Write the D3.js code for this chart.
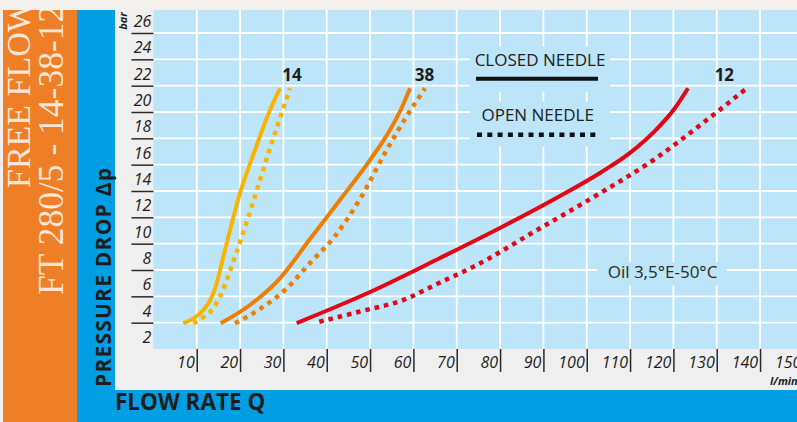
<!DOCTYPE html>
<html>
<head>
<meta charset="utf-8">
<script src="https://cdn.jsdelivr.net/npm/d3@7"></script>
<style>
  html, body { margin: 0; padding: 0; background: #f2eeeb; }
  svg { display: block; }
</style>
</head>
<body>
<svg id="chart" width="797" height="422"></svg>
<script>
// Flow rate Q (l/min) and pressure drop (bar)
const q14Closed = [6.90, 9.80, 11.52, 13.00, 14.20, 15.10, 15.80, 17.22, 19.98, 23.45, 26.91, 29.22];
const p14Closed = [3.95, 4.45, 4.96, 5.65, 6.55, 7.60, 8.55, 10.43, 13.83, 17.11, 20.15, 21.8];
const q14Open = [9.21, 11.52, 13.82, 15.83, 18.83, 22.68, 26.52, 30.37, 31.52];
const p14Open = [3.95, 4.41, 5.09, 6.33, 9.01, 12.81, 16.86, 20.66, 21.8];

const q38Closed = [15.53, 22.29, 29.21, 36.14, 43.06, 49.98, 54.60, 57.60, 59.22];
const p38Closed = [3.95, 5.34, 7.37, 10.35, 13.32, 16.35, 18.63, 20.53, 21.8];
const q38Open = [18.83, 24.60, 30.37, 36.14, 41.91, 47.68, 53.45, 58.06, 62.68];
const p38Open = [3.95, 5.04, 6.48, 8.53, 10.58, 13.39, 16.89, 19.47, 21.8];

const q12Closed = [33.07, 50.0, 66.14, 79.98, 93.83, 103.06, 109.98, 115.75, 120.37, 123.37];
const p12Closed = [3.97, 6.33, 8.91, 11.19, 13.62, 15.37, 16.89, 18.56, 20.30, 21.8];
const q12Open = [38.28, 47.68, 57.60, 66.14, 73.75, 89.22, 103.06, 115.36, 127.68, 136.92];
const p12Open = [4.07, 4.85, 5.72, 7.05, 8.23, 11.17, 13.83, 16.35, 19.39, 21.8];

const seriesNames = ["14", "38", "12"];
const seriesColors = ["#f9b300", "#ef7d00", "#e30613"];

const xTicks = [10, 20, 30, 40, 50, 60, 70, 80, 90, 100, 110, 120, 130, 140, 150];
const yTicks = [2, 4, 6, 8, 10, 12, 14, 16, 18, 20, 22, 24, 26];

const W = 797, H = 422;
const plot = { left: 153.4, top: 10, right: 797, bottom: 349 };

const svg = d3.select("#chart");

// background bands
svg.append("rect").attr("x", 3).attr("y", 10).attr("width", 74).attr("height", H - 10).attr("fill", "#ef7f26");
svg.append("rect").attr("x", 77).attr("y", 10).attr("width", W - 77).attr("height", H - 10).attr("fill", "#009fe3");
svg.append("rect").attr("x", 115).attr("y", 10).attr("width", W - 115).attr("height", 380).attr("fill", "#efefef");
svg.append("rect").attr("x", plot.left).attr("y", plot.top)
  .attr("width", plot.right - plot.left).attr("height", plot.bottom - plot.top).attr("fill", "#bde5f9");

// scales
const x = d3.scaleLinear().domain([0, 150]).range([plot.left, plot.left + 650]);
const y = d3.scaleLinear().domain([2, 26]).range([plot.bottom, 33]);

// grid
const grid = svg.append("g").attr("stroke", "#fff").attr("stroke-width", 1.8);
grid.selectAll("line.h")
  .data(yTicks.filter(v => v > 2))
  .enter().append("line")
    .attr("class", "h")
    .attr("x1", plot.left).attr("x2", plot.right)
    .attr("y1", d => y(d)).attr("y2", d => y(d));
grid.selectAll("line.v")
  .data(xTicks.filter(v => x(v) < plot.right))
  .enter().append("line")
    .attr("class", "v")
    .attr("x1", d => x(d)).attr("x2", d => x(d))
    .attr("y1", plot.top).attr("y2", plot.bottom);

// axes
const yAxis = svg.append("g")
  .attr("transform", "translate(" + plot.left + ",0)")
  .call(d3.axisLeft(y).tickValues(yTicks).tickSize(22).tickFormat(d3.format("d")));
yAxis.select(".domain").remove();
yAxis.selectAll(".tick line").attr("stroke", "#2a2a2a").attr("stroke-width", 1.5)
  .filter(d => d === 2).remove();
yAxis.selectAll(".tick text")
  .attr("x", -2).attr("dy", -6.5)
  .attr("font-family", "'Open Sans', sans-serif").attr("font-style", "italic")
  .attr("font-size", 16).attr("fill", "#1d1d1b");

const xAxis = svg.append("g")
  .attr("transform", "translate(0," + plot.bottom + ")")
  .call(d3.axisBottom(x).tickValues(xTicks).tickSize(23).tickFormat(d3.format("d")));
xAxis.select(".domain").remove();
xAxis.selectAll(".tick line").attr("stroke", "#2a2a2a").attr("stroke-width", 1.5);
xAxis.selectAll(".tick text")
  .attr("text-anchor", "end").attr("x", -2.5).attr("y", 19).attr("dy", 0)
  .attr("font-family", "'Open Sans', sans-serif").attr("font-style", "italic")
  .attr("font-size", 16).attr("fill", "#1d1d1b");

// curves
const line = d3.line()
  .x(d => x(d[0]))
  .y(d => y(d[1]))
  .curve(d3.curveMonotoneX);

const curves = [
  { closed: d3.zip(q14Closed, p14Closed), open: d3.zip(q14Open, p14Open) },
  { closed: d3.zip(q38Closed, p38Closed), open: d3.zip(q38Open, p38Open) },
  { closed: d3.zip(q12Closed, p12Closed), open: d3.zip(q12Open, p12Open) }
];

const curveG = svg.append("g").attr("fill", "none");
curves.forEach((c, i) => {
  curveG.append("path").datum(c.closed)
    .attr("d", line).attr("stroke", seriesColors[i]).attr("stroke-width", 4);
  curveG.append("path").datum(c.open)
    .attr("d", line).attr("stroke", seriesColors[i]).attr("stroke-width", 4.5)
    .attr("stroke-dasharray", "4.5,5");
  // series label above the two curve ends
  const a = c.closed[c.closed.length - 1], b = c.open[c.open.length - 1];
  svg.append("text")
    .attr("x", (x(a[0]) + x(b[0])) / 2 + 7)
    .attr("y", Math.min(y(a[1]), y(b[1])) - 7)
    .attr("text-anchor", "middle")
    .attr("font-family", "'Open Sans', sans-serif").attr("font-weight", "bold")
    .attr("font-size", 17).attr("fill", "#1d1d1b")
    .text(seriesNames[i]);
});

// legend
const legend = svg.append("g");
legend.append("rect").attr("x", 470).attr("y", 46.7).attr("width", 140).attr("height", 45).attr("fill", "#bde5f9");
legend.append("rect").attr("x", 470).attr("y", 101.7).attr("width", 140).attr("height", 45).attr("fill", "#bde5f9");
legend.append("text").attr("x", 540).attr("y", 66).attr("text-anchor", "middle")
  .attr("font-family", "'Open Sans', sans-serif").attr("font-size", 17).attr("fill", "#222")
  .text("CLOSED NEEDLE");
legend.append("line").attr("x1", 476).attr("x2", 598).attr("y1", 78.7).attr("y2", 78.7)
  .attr("stroke", "#111").attr("stroke-width", 4);
legend.append("text").attr("x", 537.7).attr("y", 121).attr("text-anchor", "middle")
  .attr("font-family", "'Open Sans', sans-serif").attr("font-size", 17).attr("fill", "#222")
  .text("OPEN NEEDLE");
legend.append("line").attr("x1", 477).attr("x2", 600).attr("y1", 134.7).attr("y2", 134.7)
  .attr("stroke", "#111").attr("stroke-width", 4.5).attr("stroke-dasharray", "5,5.3");

// oil note
svg.append("rect").attr("x", 597).attr("y", 262).attr("width", 130).attr("height", 23).attr("fill", "#bde5f9");
svg.append("text").attr("x", 662.5).attr("y", 278.3).attr("text-anchor", "middle")
  .attr("font-family", "'Open Sans', sans-serif").attr("font-size", 17).attr("fill", "#2a2a2a")
  .text("Oil 3,5°E-50°C");

// units
svg.append("text").attr("transform", "translate(127,21) rotate(-90)")
  .attr("text-anchor", "middle")
  .attr("font-family", "'Open Sans', sans-serif").attr("font-weight", "bold").attr("font-style", "italic")
  .attr("font-size", 11).attr("fill", "#1d1d1b").text("bar");
svg.append("text").attr("x", 770).attr("y", 385)
  .attr("font-family", "'Open Sans', sans-serif").attr("font-weight", "bold").attr("font-style", "italic")
  .attr("font-size", 11).attr("fill", "#1d1d1b").text("l/min");

// axis titles
svg.append("text").attr("transform", "translate(110.5,387) rotate(-90)")
  .attr("font-family", "'Open Sans', sans-serif").attr("font-weight", "bold")
  .attr("font-size", 21).attr("fill", "#1d1d1b")
  .attr("textLength", 219).attr("lengthAdjust", "spacing")
  .text("PRESSURE DROP Δp");
svg.append("text").attr("x", 115).attr("y", 410)
  .attr("font-family", "'Open Sans', sans-serif").attr("font-weight", "bold")
  .attr("font-size", 22.5).attr("fill", "#1d1d1b").text("FLOW RATE Q");

// product title on the orange band
svg.append("text").attr("transform", "translate(30,188) rotate(-90)")
  .attr("font-family", "'Liberation Serif', serif").attr("font-size", 34).attr("fill", "#fde6d6")
  .text("FREE FLOW");
svg.append("text").attr("transform", "translate(63.3,295) rotate(-90)")
  .attr("font-family", "'Liberation Serif', serif").attr("font-size", 35.5).attr("fill", "#fde6d6")
  .text("FT 280/5 - 14-38-12");

// top strip
svg.append("rect").attr("x", 0).attr("y", 0).attr("width", W).attr("height", 10).attr("fill", "#f4f0ed");
</script>
</body>
</html>
